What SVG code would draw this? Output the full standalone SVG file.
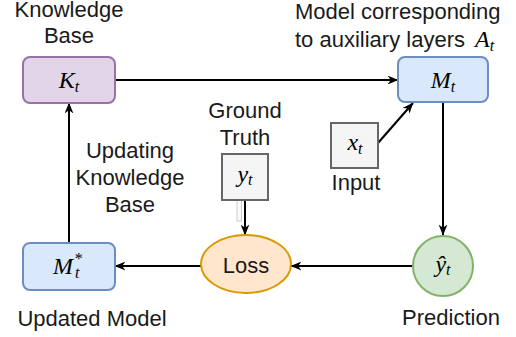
<svg xmlns="http://www.w3.org/2000/svg" width="516" height="337" viewBox="0 0 516 337">
<style>
.lbl{font-family:"Liberation Sans",Arial,sans-serif;font-size:22px;fill:#1a1a1a;}
.m{font-family:"Liberation Serif","Times New Roman",serif;font-style:italic;font-size:24px;fill:#000;}
.sub{font-size:16px;}
.edge{stroke:#000;stroke-width:2;fill:none;marker-end:url(#ah);}
</style>
<defs>
<marker id="ah" viewBox="0 0 10 8" refX="9.5" refY="4" markerWidth="11" markerHeight="9" markerUnits="userSpaceOnUse" orient="auto">
<path d="M0,0 L10,4 L0,8 L3,4 z" fill="#000"/>
</marker>
</defs>
<rect width="516" height="337" fill="#fff"/>
<g id="connectors">
<line class="edge" x1="115" y1="80" x2="398" y2="80"/>
<line class="edge" x1="443" y1="102" x2="443" y2="235"/>
<line class="edge" x1="378" y1="143" x2="413" y2="103"/>
<line class="edge" x1="413" y1="266" x2="291" y2="266"/>
<line class="edge" x1="201" y1="266" x2="115" y2="266"/>
<line class="edge" x1="69" y1="243" x2="69" y2="103"/>
<line class="edge" x1="245" y1="200" x2="245" y2="235"/>
<rect x="237" y="200" width="4.5" height="21" fill="#fafafa" stroke="#cccccc" stroke-width="1"/>
</g>
<g id="kb-label"><text class="lbl" x="69" y="17" text-anchor="middle">Knowledge</text><text class="lbl" x="69" y="43" text-anchor="middle">Base</text></g>
<g id="Kt">
<rect x="23" y="57" width="92" height="46" rx="7" fill="#e1d5e7" stroke="#9673a6" stroke-width="2"/>
<text class="m" x="69" y="88" text-anchor="middle">K<tspan class="sub" dy="4">t</tspan></text>
</g>
<g id="model-label"><text class="lbl" x="295" y="19">Model corresponding</text><text class="lbl" x="295" y="47">to auxiliary layers <tspan class="m" dx="4">A</tspan><tspan class="m sub" dy="4">t</tspan></text></g>
<g id="Mt">
<rect x="398" y="57" width="90" height="45" rx="7" fill="#dae8fc" stroke="#6c8ebf" stroke-width="2"/>
<text class="m" x="443" y="88" text-anchor="middle">M<tspan class="sub" dy="4">t</tspan></text>
</g>
<g id="gt-label"><text class="lbl" x="245" y="118" text-anchor="middle">Ground</text><text class="lbl" x="245" y="145" text-anchor="middle">Truth</text></g>
<g id="yt">
<rect x="222" y="154" width="46" height="46" fill="#f5f5f5" stroke="#666666" stroke-width="2"/>
<text class="m" x="245" y="182" text-anchor="middle">y<tspan class="sub" dy="3">t</tspan></text>
</g>
<g id="xt">
<rect x="331" y="123" width="47" height="45" fill="#f5f5f5" stroke="#666666" stroke-width="2"/>
<text class="m" x="355" y="150" text-anchor="middle">x<tspan class="sub" dy="4">t</tspan></text>
<text class="lbl" x="356" y="190" text-anchor="middle">Input</text>
</g>
<g id="upd-label"><text class="lbl" x="130" y="158" text-anchor="middle">Updating</text><text class="lbl" x="130" y="185" text-anchor="middle">Knowledge</text><text class="lbl" x="130" y="212" text-anchor="middle">Base</text></g>
<g id="Mstar">
<rect x="23" y="243" width="92" height="47" rx="7" fill="#dae8fc" stroke="#6c8ebf" stroke-width="2"/>
<text class="m" x="53" y="274">M<tspan class="sub" dx="1" dy="-10">*</tspan><tspan class="sub" dx="-7" dy="14">t</tspan></text>
<text class="lbl" x="92" y="326" text-anchor="middle">Updated Model</text>
</g>
<g id="Loss">
<ellipse cx="246" cy="264" rx="45" ry="29" fill="#ffe6cc" stroke="#d79b00" stroke-width="2"/>
<text class="lbl" x="246" y="273" text-anchor="middle">Loss</text>
</g>
<g id="yhat">
<circle cx="443" cy="266" r="30" fill="#d5e8d4" stroke="#82b366" stroke-width="2"/>
<text class="m" x="443" y="272" text-anchor="middle">ŷ<tspan class="sub" dy="3">t</tspan></text>
<text class="lbl" x="451" y="325" text-anchor="middle">Prediction</text>
</g>
</svg>
